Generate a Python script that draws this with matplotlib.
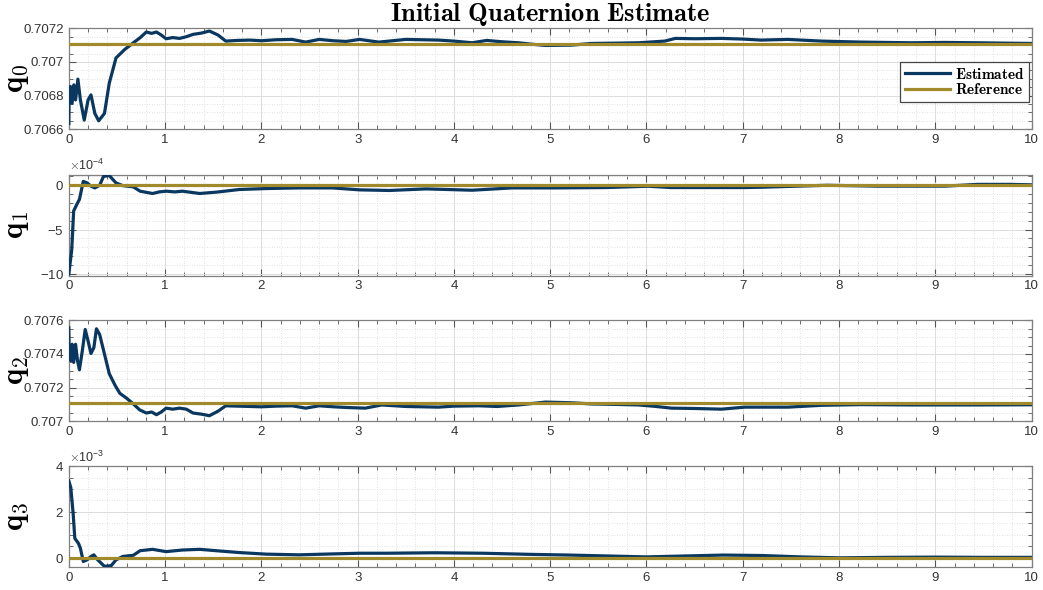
import matplotlib.pyplot as plt
import numpy as np
from matplotlib.ticker import FuncFormatter, MultipleLocator, AutoMinorLocator, ScalarFormatter

plt.rcParams["mathtext.fontset"] = "cm"
plt.rcParams["axes.unicode_minus"] = False
plt.rcParams["font.family"] = ["Liberation Sans", "DejaVu Sans"]

EST_COLOR = "#0a3760"
REF_COLOR = "#a08a2c"

# reference attitude (45 deg about y axis)
q_ref = [0.707107, 0.0, 0.707107, 0.0]

# q0 estimate
t0 = [0.0, 0.003, 0.017, 0.034, 0.052, 0.07, 0.094, 0.12, 0.16, 0.2, 0.23, 0.27, 0.31,
      0.37, 0.42, 0.49, 0.58, 0.67, 0.74, 0.805, 0.86, 0.91, 0.96, 1.01, 1.08, 1.15, 1.22,
      1.29, 1.38, 1.46, 1.55, 1.63, 1.75, 1.88, 2.0, 2.15, 2.32, 2.46, 2.6, 2.75, 2.88,
      3.02, 3.22, 3.5, 3.84, 4.0, 4.19, 4.34, 4.5, 4.67, 4.8, 4.95, 5.22, 5.43, 5.7, 5.92,
      6.19, 6.3, 6.5, 6.78, 7.0, 7.19, 7.47, 7.82, 8.23, 8.75, 9.1, 9.44, 9.7, 10.0]
q0 = [0.706634, 0.706794, 0.706854, 0.706754, 0.706864, 0.706774, 0.706898, 0.706774,
      0.706654, 0.706774, 0.706804, 0.706694, 0.70665, 0.706694, 0.706874, 0.707024,
      0.707074, 0.707114, 0.707144, 0.707178, 0.707170, 0.707178, 0.707160, 0.707138,
      0.707145, 0.70714, 0.707150, 0.707164, 0.707172, 0.707184, 0.707160, 0.707124,
      0.707128, 0.70713, 0.707126, 0.707132, 0.707134, 0.707118, 0.707134, 0.707126,
      0.707122, 0.707134, 0.707118, 0.707134, 0.70713, 0.707124, 0.707114, 0.707128,
      0.707120, 0.707114, 0.707106, 0.707098, 0.7071, 0.70711, 0.707112, 0.707114,
      0.707124, 0.70714, 0.707138, 0.70714, 0.707136, 0.70713, 0.707134, 0.707124,
      0.707118, 0.707114, 0.707116, 0.707114, 0.707112, 0.70711]

# q1 estimate
t1 = [0.0, 0.03, 0.05, 0.086, 0.11, 0.15, 0.19, 0.23, 0.27, 0.32, 0.36, 0.42, 0.49, 0.56,
      0.67, 0.74, 0.87, 0.94, 1.01, 1.1, 1.18, 1.36, 1.53, 1.77, 2.05, 2.39, 2.74, 3.02,
      3.33, 3.71, 4.19, 4.6, 5.02, 5.57, 6.02, 6.26, 6.6, 7.02, 7.2, 7.54, 7.88, 8.4,
      9.1, 9.44, 9.78, 10.0]
q1 = [-10.0, -7.3, -2.9, -2.1, -1.6, 0.44, 0.26, -0.1, -0.3, 0.0, 1.0, 1.1, 0.26, -0.04,
      -0.18, -0.67, -0.93, -0.75, -0.67, -0.75, -0.67, -0.93, -0.78, -0.48, -0.37, -0.3,
      -0.3, -0.52, -0.59, -0.41, -0.56, -0.3, -0.3, -0.26, -0.11, -0.26, -0.26, -0.26,
      -0.22, -0.11, 0.0, -0.1, -0.1, 0.1, 0.1, 0.05]
q1 = [v * 1e-4 for v in q1]

# q2 estimate
t2 = [0.0, 0.003, 0.02, 0.034, 0.05, 0.07, 0.09, 0.11, 0.14, 0.17, 0.2, 0.23, 0.26,
      0.287, 0.32, 0.37, 0.42, 0.48, 0.53, 0.6, 0.67, 0.735, 0.805, 0.86, 0.91, 0.96,
      1.01, 1.08, 1.15, 1.22, 1.29, 1.38, 1.46, 1.55, 1.63, 1.75, 1.88, 2.0, 2.15, 2.32,
      2.46, 2.6, 2.75, 2.88, 3.08, 3.25, 3.5, 3.84, 4.0, 4.26, 4.45, 4.67, 4.95, 5.22,
      5.43, 5.7, 5.92, 6.1, 6.26, 6.5, 6.78, 7.02, 7.47, 7.82, 8.23, 8.75, 9.44, 10.0]
q2 = [0.707555, 0.707419, 0.70736, 0.707458, 0.70735, 0.707458, 0.70736, 0.707306,
      0.707419, 0.707546, 0.707477, 0.707403, 0.707438, 0.70755, 0.707516, 0.7074,
      0.707283, 0.707214, 0.707166, 0.707137, 0.707103, 0.707068, 0.707049, 0.707055,
      0.707039, 0.707055, 0.707078, 0.707072, 0.707078, 0.707072, 0.707049, 0.707042,
      0.707033, 0.707060, 0.707092, 0.707090, 0.707088, 0.707086, 0.707090, 0.707092,
      0.707078, 0.707092, 0.707086, 0.707082, 0.707078, 0.707097, 0.707088, 0.707084,
      0.707090, 0.707092, 0.707088, 0.707097, 0.707114, 0.70711, 0.707103, 0.707100,
      0.707097, 0.707088, 0.707078, 0.707076, 0.707072, 0.707084, 0.707084, 0.707095,
      0.707099, 0.707097, 0.707097, 0.707098]

# q3 estimate
t3 = [0.0, 0.02, 0.045, 0.062, 0.1, 0.12, 0.15, 0.19, 0.23, 0.26, 0.3, 0.37, 0.44, 0.49,
      0.56, 0.67, 0.74, 0.87, 1.01, 1.18, 1.36, 1.53, 1.77, 2.05, 2.39, 2.74, 3.02, 3.3,
      3.8, 4.3, 4.8, 5.2, 5.6, 6.0, 6.4, 6.8, 7.2, 7.6, 8.0, 8.5, 9.0, 9.5, 10.0]
q3 = [3.35, 3.07, 1.92, 0.85, 0.63, 0.42, -0.16, -0.09, 0.06, 0.13, -0.09, -0.37, -0.34,
      -0.09, 0.06, 0.11, 0.31, 0.37, 0.27, 0.34, 0.37, 0.31, 0.23, 0.16, 0.13, 0.17, 0.2,
      0.2, 0.22, 0.2, 0.15, 0.12, 0.08, 0.04, 0.08, 0.12, 0.1, 0.04, 0.0, 0.02, 0.03,
      0.02, 0.02]
q3 = [v * 1e-3 for v in q3]

series = [(t0, q0), (t1, q1), (t2, q2), (t3, q3)]
labels = [r"$\mathbf{q_0}$", r"$\mathbf{q_1}$", r"$\mathbf{q_2}$", r"$\mathbf{q_3}$"]
ylims = [(0.7066, 0.7072), (-10.2e-4, 1.2e-4), (0.707, 0.7076), (-0.4e-3, 4e-3)]
ymajor = [0.0002, 5e-4, 0.0002, 2e-3]
yminor = [4, 5, 4, 4]
yexp = [None, -4, None, -3]

# axes rectangles in figure coordinates
left, width = 0.066, 0.923
bottoms = [0.781, 0.533, 0.286, 0.039]
height = 0.171

fig = plt.figure(figsize=(10.43, 5.90), dpi=100)
axes = []
for i, ((t, q), lab) in enumerate(zip(series, labels)):
    ax = fig.add_axes([left, bottoms[i], width, height])
    axes.append(ax)
    ax.plot(t, q, color=EST_COLOR, lw=2.3, label=r"$\mathbf{Estimated}$", zorder=3)
    ax.axhline(q_ref[i], color=REF_COLOR, lw=2.3, label=r"$\mathbf{Reference}$", zorder=4)

    ax.set_xlim(0, 10)
    ax.set_ylim(*ylims[i])
    ax.xaxis.set_major_locator(MultipleLocator(1))
    ax.xaxis.set_minor_locator(MultipleLocator(0.2))
    ax.yaxis.set_major_locator(MultipleLocator(ymajor[i]))
    ax.yaxis.set_minor_locator(AutoMinorLocator(yminor[i]))

    if yexp[i] is None:
        ax.yaxis.set_major_formatter(FuncFormatter(lambda v, p: f"{v:.4f}".rstrip("0")))
    else:
        fmt = ScalarFormatter(useMathText=True)
        fmt.set_powerlimits((yexp[i], yexp[i]))
        ax.yaxis.set_major_formatter(fmt)
        ax.yaxis.get_offset_text().set_fontsize(9)
        ax.yaxis.get_offset_text().set_color("#333333")

    ax.grid(which="major", color="#dcdcdc", lw=0.7)
    ax.grid(which="minor", color="#d8d8d8", lw=0.6, ls=(0, (1, 2)))
    ax.set_axisbelow(True)
    ax.tick_params(which="both", direction="in", top=True, right=True,
                   labelsize=9.5, colors="#333333", color="#555555")
    ax.tick_params(which="major", length=5, width=0.8)
    ax.tick_params(which="minor", length=3, width=0.6)
    for s in ax.spines.values():
        s.set_color("#808080")
        s.set_linewidth(0.9)

    ax.set_ylabel(lab, fontsize=22)
    ax.yaxis.set_label_coords(-0.039, 0.5)

axes[0].set_title(r"$\mathbf{Initial\ Quaternion\ Estimate}$", fontsize=19, pad=2)
leg = axes[0].legend(loc="upper right", bbox_to_anchor=(0.9975, 0.665), fontsize=11,
                     fancybox=False, framealpha=1, edgecolor="#444444",
                     handlelength=3.0, handletextpad=0.3, borderpad=0.3,
                     labelspacing=0.05, borderaxespad=0.0)
leg.get_frame().set_linewidth(0.9)

fig.savefig("out.png", dpi=100)
